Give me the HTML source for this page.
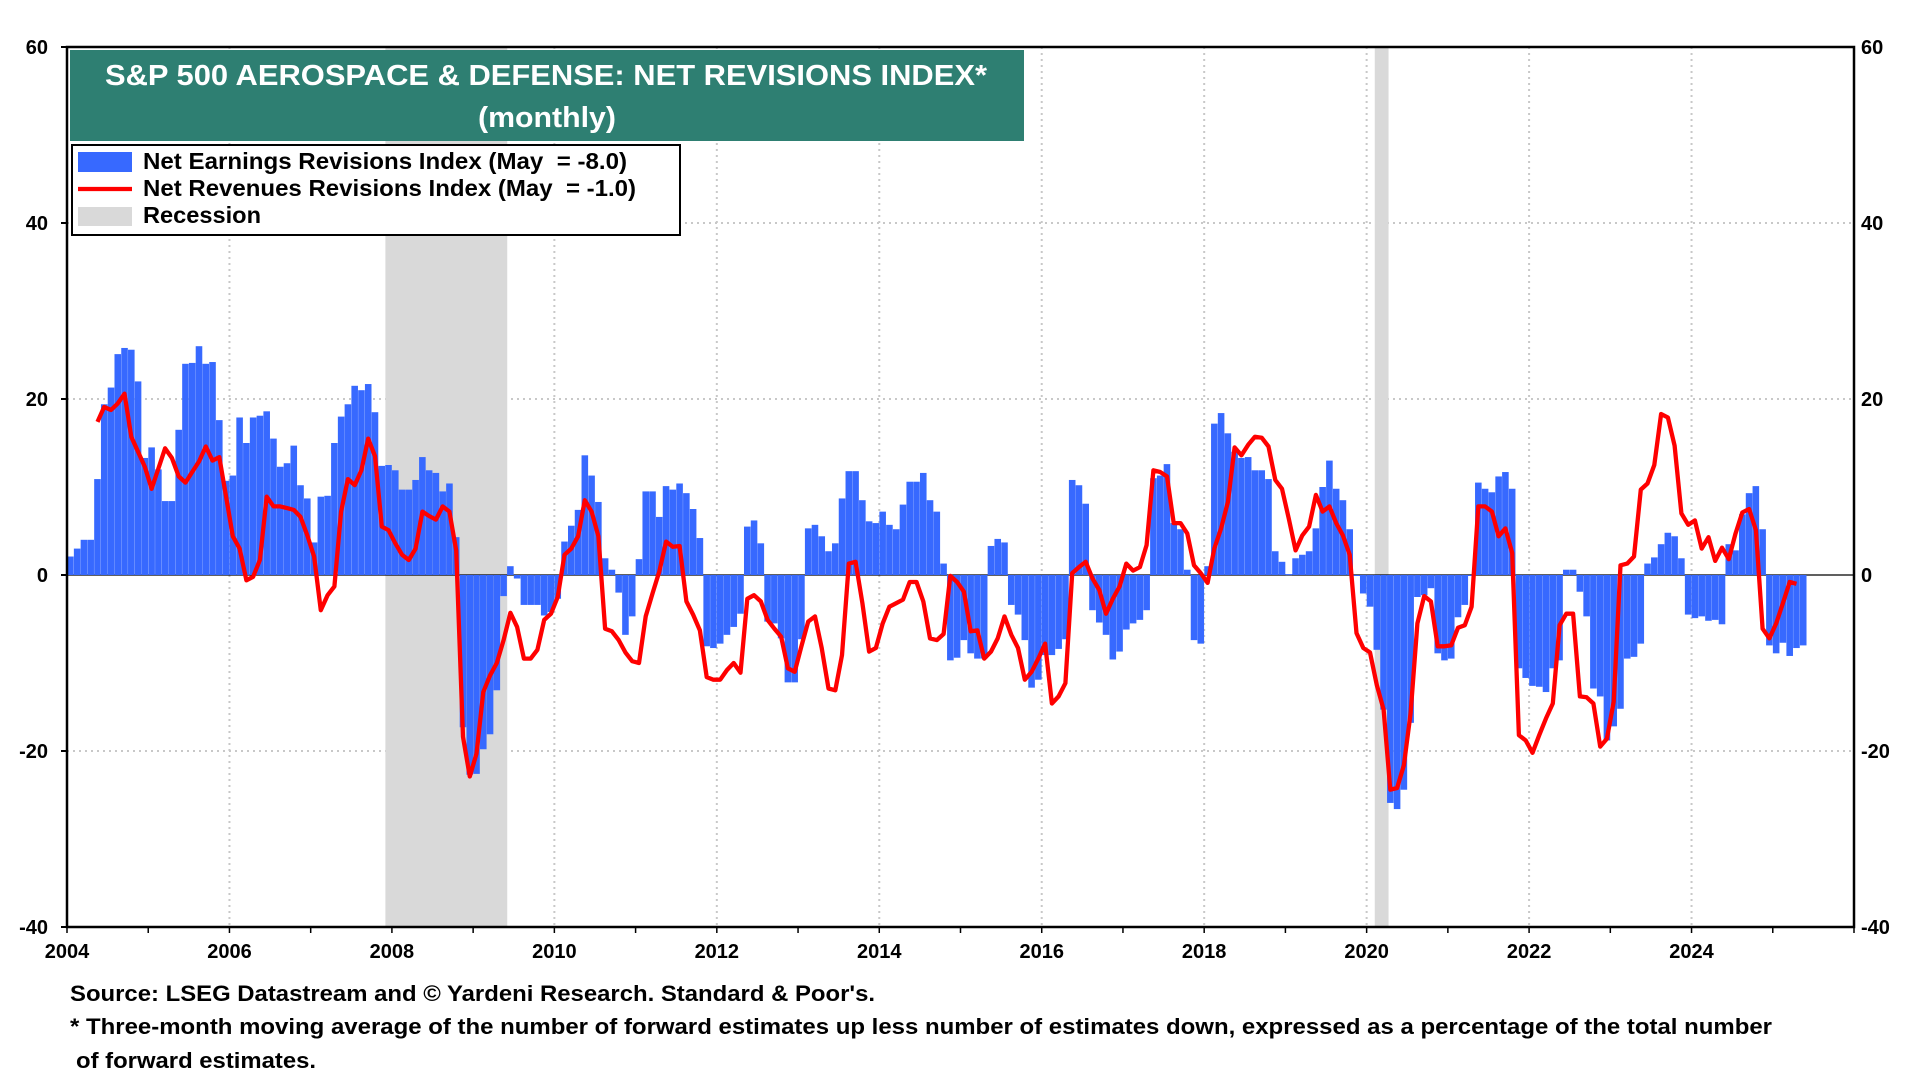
<!DOCTYPE html>
<html><head><meta charset="utf-8"><title>S&amp;P 500 Aerospace &amp; Defense: Net Revisions Index</title>
<style>
html,body{margin:0;padding:0;background:#fff;}
body{width:1920px;height:1080px;overflow:hidden;font-family:"Liberation Sans",Arial,sans-serif;}
svg{display:block;}
</style></head>
<body>
<svg id="chart" width="1920" height="1080" viewBox="0 0 1920 1080" xmlns="http://www.w3.org/2000/svg">
  <g id="grid"></g>
  <g id="recessions"></g>
  <line id="zero-line" stroke="#000" stroke-width="1.2"></line>
  <g id="bars"></g>
  <path id="rev-line" fill="none" stroke="#ff0000" stroke-width="4.3" stroke-linejoin="round"></path>
  <rect x="67" y="47" width="1787" height="880" fill="none" stroke="#000" stroke-width="2.5"></rect>
  <g id="yleft" font-size="20" font-weight="bold" text-anchor="end"></g>
  <g id="yright" font-size="20" font-weight="bold" text-anchor="start"></g>
  <g id="xaxis" font-size="20" font-weight="bold" text-anchor="middle"></g>

  <g>
    <rect x="70" y="50" width="954" height="91" fill="#2e7f72"></rect>
    <text x="105" y="85" fill="#fff" font-size="29" font-weight="bold" textLength="882" lengthAdjust="spacingAndGlyphs">S&amp;P 500 AEROSPACE &amp; DEFENSE: NET REVISIONS INDEX*</text>
    <text x="478" y="127" fill="#fff" font-size="29" font-weight="bold" textLength="138" lengthAdjust="spacingAndGlyphs">(monthly)</text>
  </g>

  <g>
    <rect x="72" y="145" width="608" height="90" fill="#fff" stroke="#000" stroke-width="2"></rect>
    <g>
      <rect x="78" y="152" width="54" height="20" fill="#3769ff"></rect>
      <text x="143" y="169" font-size="23" font-weight="bold" textLength="484" lengthAdjust="spacingAndGlyphs">Net Earnings Revisions Index (May&#160;&#160;= -8.0)</text>
    </g>
    <g>
      <line x1="78" y1="189" x2="132" y2="189" stroke="#ff0000" stroke-width="4.3"></line>
      <text x="143" y="196" font-size="23" font-weight="bold" textLength="493" lengthAdjust="spacingAndGlyphs">Net Revenues Revisions Index (May&#160;&#160;= -1.0)</text>
    </g>
    <g>
      <rect x="78" y="207" width="54" height="19" fill="#d9d9d9"></rect>
      <text x="143" y="223" font-size="23" font-weight="bold" textLength="118" lengthAdjust="spacingAndGlyphs">Recession</text>
    </g>
  </g>

  <g font-size="22" font-weight="bold">
    <text x="70" y="1001" textLength="805" lengthAdjust="spacingAndGlyphs">Source: LSEG Datastream and © Yardeni Research. Standard &amp; Poor's.</text>
    <text x="70" y="1034" textLength="1702" lengthAdjust="spacingAndGlyphs">* Three-month moving average of the number of forward estimates up less number of estimates down, expressed as a percentage of the total number</text>
    <text x="76" y="1068" textLength="240" lengthAdjust="spacingAndGlyphs">of forward estimates.</text>
  </g>
</svg>
<script>
// ---- data (monthly, index 0 = Jan 2004) ----
const startYear = 2004;
const earnings = [2.1,3,4,4,10.9,19.4,21.3,25.1,25.8,25.6,22,13.3,14.5,12,8.4,8.4,16.5,24,24.1,26,24,24.2,17.6,10.7,11.3,17.9,15,17.9,18.1,18.6,15.5,12.3,12.7,14.7,10.2,8.7,3.7,8.9,9,15,18,19.4,21.5,21,21.7,18.5,
12.4,12.5,11.9,9.7,9.7,10.8,13.4,11.9,11.6,9.5,10.4,4.3,-17.3,-22.7,-22.6,-19.8,-18.1,-13.1,-2.4,1,-0.4,-3.4,-3.4,-3.4,-4.6,-4.2,-2.7,3.8,5.6,7.4,13.6,11.3,8.3,1.9,0.6,-2,-6.8,-4.7,1.8,9.5,9.5,6.6,10.1,9.7,
10.4,9.3,7.5,4.2,-8.1,-8.3,-7.8,-6.8,-5.9,-4.4,5.5,6.2,3.6,-5.3,-5.5,-7.2,-12.2,-12.2,-7.3,5.3,5.7,4.4,2.7,3.6,8.7,11.8,11.8,8.5,6.1,5.9,7.2,5.7,5.2,8,10.6,10.6,11.6,8.5,7.2,1.3,-9.7,-9.4,-7.4,
-8.9,-9.5,-9.5,3.3,4.1,3.7,-3.4,-4.5,-7.4,-12.8,-11.9,-9.1,-9.1,-8.4,-7.3,10.8,10.2,8.1,-4,-5.4,-6.8,-9.6,-8.7,-6.2,-5.5,-5.1,-4,11,11.3,12.6,5.9,5.2,0.6,-7.4,-7.8,1,17.2,18.4,16.1,14,13.3,13.4,11.9,
11.9,10.9,2.7,1.5,0.1,1.9,2.3,2.7,5.3,10,13,9.8,8.5,5.2,0,-2.1,-3.6,-8.5,-15.3,-25.9,-26.6,-24.4,-16.8,-2.5,-2.3,-1.5,-8.9,-9.7,-9.5,-4.8,-3.4,0,10.5,9.8,9.4,11.2,11.7,9.8,-10.6,-11.7,-12.6,
-12.7,-13.3,-10.6,-9.7,0.6,0.6,-1.9,-4.7,-12.9,-13.8,-18.8,-17.2,-15.2,-9.5,-9.3,-7.8,1.3,2,3.5,4.8,4.4,1.9,-4.5,-4.9,-4.7,-5.2,-5.1,-5.6,3.5,2.8,6.9,9.3,10.1,5.2,-8,-8.9,-7.7,-9.2,-8.3,-8.0];
const revenuesStart = 4; // first revenues value is May 2004
const revenues = [17.4,19.1,18.75,19.5,20.6,15.7,14,12.3,9.8,12.1,14.4,13.3,11.2,10.5,11.7,12.9,14.6,13,13.4,8.9,4.4,3,-0.6,-0.2,1.7,8.9,7.8,7.8,7.6,7.4,6.6,4.5,2.1,-4,-2.3,-1.3,7.2,10.9,10.2,11.9,15.5,13.5,
5.5,5.1,3.6,2.3,1.7,3,7.2,6.7,6.3,7.8,7.2,2.8,-18.4,-22.9,-20.3,-13.3,-11.4,-10,-7.4,-4.3,-5.9,-9.5,-9.5,-8.5,-5.1,-4.4,-2.5,2.3,3,4.4,8.5,7.2,4.4,-6.1,-6.4,-7.4,-8.8,-9.8,-10,-4.7,-2.1,0.4,3.8,3.2,
3.3,-3,-4.5,-6.3,-11.6,-11.9,-11.9,-10.8,-10,-11.1,-2.7,-2.3,-3,-5.1,-6.1,-7,-10.6,-11,-8.1,-5.3,-4.7,-8.3,-12.9,-13.1,-9.1,1.3,1.5,-3.2,-8.7,-8.3,-5.5,-3.6,-3.2,-2.8,-0.8,-0.8,-3,-7.2,-7.4,-6.7,-0.1,-0.8,-1.9,
-6.4,-6.3,-9.5,-8.7,-7.2,-4.7,-6.8,-8.3,-11.9,-11,-9.5,-7.8,-14.6,-13.8,-12.3,0.2,0.9,1.5,-0.4,-1.7,-4.4,-2.7,-1.3,1.3,0.5,0.9,3.4,11.9,11.7,11.2,5.9,5.9,4.7,1.1,0.2,-0.9,3,5.3,8.3,14.5,13.6,14.8,15.7,
15.6,14.6,10.8,9.8,6.4,2.8,4.5,5.5,9.1,7.2,7.8,5.9,4.5,2.3,-6.6,-8.3,-8.8,-12.5,-15.3,-24.4,-24.2,-21.6,-15.7,-5.5,-2.4,-3,-8.1,-8.1,-8,-6,-5.7,-3.6,7.8,7.8,7.2,4.4,5.3,2.5,-18.2,-18.8,-20.2,
-18.2,-16.3,-14.6,-5.7,-4.4,-4.4,-13.8,-13.9,-14.6,-19.5,-18.6,-14.4,1.1,1.3,2.1,9.7,10.4,12.5,18.3,17.9,14.7,7,5.7,6.2,3,4.3,1.6,3.1,1.8,4.7,7.1,7.5,5.1,-6.1,-7.2,-5.5,-3.2,-0.8,-1.0];
const recessionStarts = [2007.92, 2020.10];
const recessionEnds = [2009.42, 2020.27];
const yTicks = [60, 40, 20, 0, -20, -40];
const xTickYears = [2004, 2006, 2008, 2010, 2012, 2014, 2016, 2018, 2020, 2022, 2024];

// ---- axes ----
const PL = 67, PR = 1854, PT = 47, PB = 927;
const X0 = 2004, X1 = 2026, Y0 = -40, Y1 = 60;
function xs(t){ return PL + (t - X0) / (X1 - X0) * (PR - PL); }
function ys(v){ return PB - (v - Y0) / (Y1 - Y0) * (PB - PT); }
function monthT(i){ return startYear + (i + 0.5) / 12; }
const NS = 'http://www.w3.org/2000/svg';
function mk(tag, attrs, parent){ const e = document.createElementNS(NS, tag); for (const k in attrs) e.setAttribute(k, attrs[k]); parent.appendChild(e); return e; }

const grid = document.getElementById('grid');
yTicks.forEach(v => {
  if (v === 60 || v === -40 || v === 0) return;
  const g = mk('line', {x1: PL, x2: PR, y1: ys(v), y2: ys(v), stroke: '#c8c8c8', 'stroke-width': 2, 'stroke-dasharray': '2,4'}, grid);
  
  
});
xTickYears.forEach(yr => {
  if (yr === 2004) return;
  const g = mk('line', {x1: xs(yr), x2: xs(yr), y1: PT, y2: PB, stroke: '#c8c8c8', 'stroke-width': 2, 'stroke-dasharray': '2,4'}, grid);
  
  
});

const rec = document.getElementById('recessions');
recessionStarts.forEach((s, i) => {
  const r = mk('rect', {x: xs(s), y: PT, width: xs(recessionEnds[i]) - xs(s), height: PB - PT, fill: '#d9d9d9'}, rec);
  
  
});

const zl = document.getElementById('zero-line');
zl.setAttribute('x1', PL); zl.setAttribute('x2', PR);
zl.setAttribute('y1', ys(0)); zl.setAttribute('y2', ys(0));

const barsG = document.getElementById('bars');
const bw = (xs(2005) - xs(2004)) / 12;
earnings.forEach((v, i) => {
  const cx = xs(monthT(i));
  const y0 = ys(0), y1 = ys(v);
  const b = mk('rect', {x: cx - bw / 2 + 0.1, y: Math.min(y0, y1), width: bw - 0.2, height: Math.max(1, Math.abs(y1 - y0)), fill: '#3769ff'}, barsG);
  
  
});

let d = '';
revenues.forEach((v, k) => {
  const i = k + revenuesStart;
  d += (k ? 'L' : 'M') + xs(monthT(i)).toFixed(1) + ',' + ys(v).toFixed(1);
});
document.getElementById('rev-line').setAttribute('d', d);

const yl = document.getElementById('yleft'), yr = document.getElementById('yright');
yTicks.forEach(v => {
  const a = mk('text', {x: 48, y: ys(v) + 7}, yl); a.textContent = v;
  
  
  const b = mk('text', {x: 1861, y: ys(v) + 7}, yr); b.textContent = v;
  
  
  const t1 = mk('line', {x1: PL - 6, x2: PL, y1: ys(v), y2: ys(v), stroke: '#000', 'stroke-width': 2}, yl);
  
  
});
const xa = document.getElementById('xaxis');
xTickYears.forEach(y => {
  const t = mk('text', {x: xs(y), y: 958}, xa); t.textContent = y;
  
  
});
for (let y = 2004; y <= 2026; y++) {
  const m = mk('line', {x1: xs(y), x2: xs(y), y1: PB, y2: PB + 6, stroke: '#000', 'stroke-width': 1.5}, xa);
  
  
}
</script>
</body></html>
